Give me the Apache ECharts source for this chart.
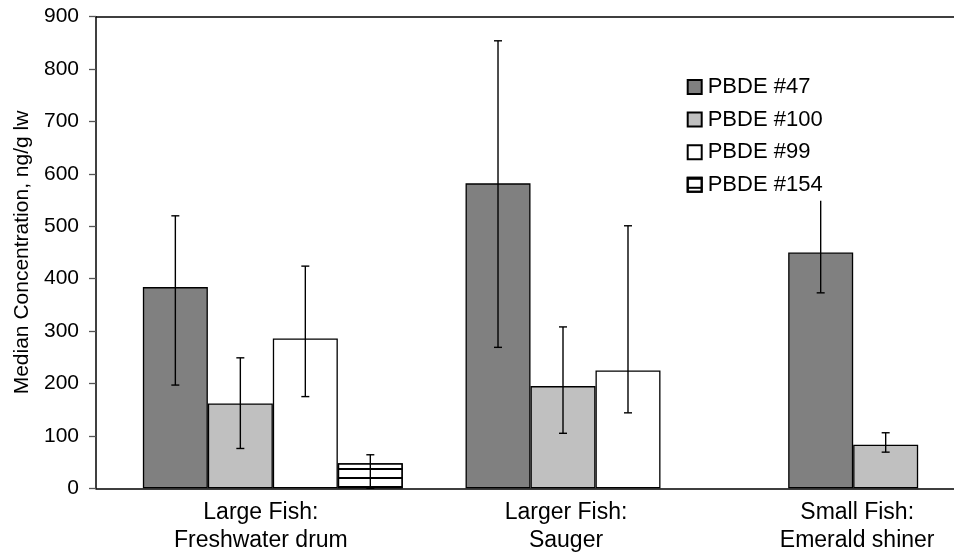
<!DOCTYPE html>
<html>
<head>
<meta charset="utf-8">
<script src="https://cdn.jsdelivr.net/npm/echarts@6/dist/echarts.min.js"></script>
<style>html,body{margin:0;padding:0;background:#fff}#c{width:954px;height:554px}</style>
</head>
<body>
<div id="c"></div>
<script>
// ---- data ----
const categories = ['Large Fish:\nFreshwater drum', 'Larger Fish:\nSauger', 'Small Fish:\nEmerald shiner'];
const seriesNames = ['PBDE #47', 'PBDE #100', 'PBDE #99', 'PBDE #154'];
const p47 = [384, 582, 450];
const p47Low = [197, 269, 373];
const p47High = [520, 854, 560];
const p100 = [162, 195, 83];
const p100Low = [76, 105, 69];
const p100High = [249, 308, 106];
const p99 = [286, 225, null];
const p99Low = [175, 144, null];
const p99High = [424, 501, null];
const p154 = [48, null, null];
const p154Low = [0, null, null];
const p154High = [64, null, null];
const yTicks = [0, 100, 200, 300, 400, 500, 600, 700, 800, 900];

// ---- layout ----
const FONT = '"Liberation Sans", Arial, sans-serif';
const BAR_FRAC = 65 / 322.7;
const labelShift = [24, 59, 122];

const values = [p47, p100, p99, p154];
const lows = [p47Low, p100Low, p99Low, p154Low];
const highs = [p47High, p100High, p99High, p154High];
const fills = ['#808080', '#c0c0c0', '#ffffff', '#ffffff'];

const errData = [];
values.forEach((arr, s) => {
  arr.forEach((v, i) => {
    if (v != null && lows[s][i] != null) errData.push([i, lows[s][i], highs[s][i], s]);
  });
});

const barSeries = seriesNames.map((name, s) => {
  const itemStyle = { color: fills[s], borderColor: '#000', borderWidth: 1.3 };
  if (s === 3) {
    itemStyle.decal = { symbol: 'rect', symbolSize: 1, color: '#000', dashArrayX: [1, 0], dashArrayY: [1.6, 6.4], rotation: 0 };
  }
  return {
    name, type: 'bar', xAxisIndex: 2, yAxisIndex: 1,
    data: values[s], barWidth: (BAR_FRAC * 100).toFixed(2) + '%', barGap: '0%',
    itemStyle, emphasis: { disabled: true }, z: 2
  };
});

const chart = echarts.init(document.getElementById('c'), null, { renderer: 'canvas' });
chart.setOption({
  animation: false,
  backgroundColor: '#fff',
  grid: [
    { left: 96, right: -200, top: 16.7, bottom: 65.7, outerBoundsMode: 'none', containLabel: false },
    { left: 111.5, right: -125.5, top: 16.7, bottom: 65.7, outerBoundsMode: 'none', containLabel: false }
  ],
  legend: {
    data: seriesNames, orient: 'vertical', left: 681.7, top: 71,
    itemWidth: 14, itemHeight: 14, itemGap: 10.6, padding: 5,
    backgroundColor: '#fff', icon: 'rect',
    textStyle: { fontFamily: FONT, fontSize: 22, color: '#000', lineHeight: 22, padding: [0, 0, 0, 1] },
    z: 10
  },
  xAxis: [
    { gridIndex: 0, type: 'category', data: [''], position: 'bottom',
      axisLine: { show: true, lineStyle: { color: '#000', width: 1.5 } },
      axisTick: { show: false }, axisLabel: { show: false }, splitLine: { show: false } },
    { gridIndex: 0, type: 'category', data: [''], position: 'top',
      axisLine: { show: true, lineStyle: { color: '#000', width: 1.5 } },
      axisTick: { show: false }, axisLabel: { show: false }, splitLine: { show: false } },
    { gridIndex: 1, type: 'category', data: categories, position: 'bottom',
      axisLine: { show: false }, axisTick: { show: false }, splitLine: { show: false },
      axisLabel: {
        show: true, margin: 10.7, interval: 0,
        formatter: (val, idx) => val.split('\n').map(l => '{c' + idx + '|' + l + '}').join('\n'),
        rich: {
          c0: { fontFamily: FONT, fontSize: 23, lineHeight: 28, color: '#000', padding: [0, labelShift[0], 0, 0] },
          c1: { fontFamily: FONT, fontSize: 23, lineHeight: 28, color: '#000', padding: [0, labelShift[1], 0, 0] },
          c2: { fontFamily: FONT, fontSize: 23, lineHeight: 28, color: '#000', padding: [0, labelShift[2], 0, 0] }
        }
      } }
  ],
  yAxis: [
    { gridIndex: 0, type: 'value', min: yTicks[0], max: yTicks[yTicks.length - 1], interval: 100,
      name: 'Median Concentration, ng/g lw', nameLocation: 'middle', nameRotate: 90, nameGap: 63,
      nameTextStyle: { fontFamily: FONT, fontSize: 21, color: '#000' },
      axisLine: { show: true, lineStyle: { color: '#000', width: 1.5 } },
      axisTick: { show: true, inside: false, length: 7, lineStyle: { color: '#555', width: 1.3 } },
      axisLabel: { fontFamily: FONT, fontSize: 21, color: '#000', margin: 17 },
      splitLine: { show: false } },
    { gridIndex: 1, type: 'value', min: 0, max: 900, interval: 100, show: false, splitLine: { show: false } }
  ],
  series: barSeries.concat([{
    name: 'err', type: 'custom', xAxisIndex: 2, yAxisIndex: 1, z: 3,
    data: errData,
    renderItem: (params, api) => {
      const ci = api.value(0), lo = api.value(1), hi = api.value(2), slot = api.value(3);
      const band = api.size([1, 0])[0];
      const cx = api.coord([ci, 0])[0] + (slot - 1.5) * band * BAR_FRAC;
      const yl = api.coord([ci, lo])[1], yh = api.coord([ci, hi])[1];
      const cap = 4;
      const st = { stroke: '#000', lineWidth: 1.4 };
      return { type: 'group', children: [
        { type: 'line', shape: { x1: cx, y1: yl, x2: cx, y2: yh }, style: st },
        { type: 'line', shape: { x1: cx - cap, y1: yh, x2: cx + cap, y2: yh }, style: st },
        { type: 'line', shape: { x1: cx - cap, y1: yl, x2: cx + cap, y2: yl }, style: st }
      ] };
    }
  }])
});
</script>
</body>
</html>
